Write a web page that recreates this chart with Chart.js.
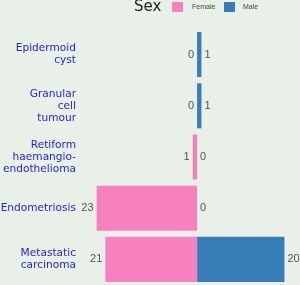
<!DOCTYPE html>
<html>
<head>
<meta charset="utf-8">
<script src="https://cdn.jsdelivr.net/npm/chart.js@4"></script>
<style>
  html, body { margin: 0; padding: 0; background: #e9f0e8; }
  #wrap { width: 300px; height: 285px; position: relative; }
</style>
</head>
<body>
<div id="wrap"><canvas id="grafico"></canvas></div>
<script>
const categorias = [
  ['Epidermoid', 'cyst'],
  ['Granular', 'cell', 'tumour'],
  ['Retiform', 'haemangio-', 'endothelioma'],
  'Endometriosis',
  ['Metastatic', 'carcinoma']
];
const feminino = [0, 0, 1, 23, 21];
const masculino = [1, 1, 0, 0, 20];

const corFem = '#f781bf';
const corMasc = '#377eb8';

// rótulos de valor nas pontas das barras
const rotulos = {
  id: 'rotulos',
  afterDatasetsDraw(chart) {
    const ctx = chart.ctx;
    const x = chart.scales.x;
    ctx.save();
    ctx.font = '11px "Liberation Sans", Arial, sans-serif';
    ctx.fillStyle = '#555';
    ctx.textBaseline = 'middle';
    chart.getDatasetMeta(0).data.forEach((bar, i) => {
      ctx.textAlign = 'right';
      ctx.fillText(String(feminino[i]), x.getPixelForValue(-feminino[i]) - 3, bar.y);
    });
    chart.getDatasetMeta(1).data.forEach((bar, i) => {
      ctx.textAlign = 'left';
      ctx.fillText(String(masculino[i]), x.getPixelForValue(masculino[i]) + 3, bar.y);
    });
    ctx.restore();
  }
};

// legenda no topo: "Sex" + caixas
const legenda = {
  id: 'legenda',
  afterDraw(chart) {
    const ctx = chart.ctx;
    ctx.save();
    ctx.textBaseline = 'middle';
    ctx.fillStyle = '#222';
    ctx.font = '15px "DejaVu Sans", sans-serif';
    ctx.textAlign = 'left';
    ctx.fillText('Sex', 134, 7);
    ctx.fillStyle = corFem;
    ctx.fillRect(172, 2, 11, 10);
    ctx.fillStyle = corMasc;
    ctx.fillRect(224, 2, 11, 10);
    ctx.fillStyle = '#444';
    ctx.font = '7px "Liberation Sans", sans-serif';
    ctx.fillText('Female', 192, 7);
    ctx.fillText('Male', 243, 7);
    ctx.restore();
  }
};

new Chart(document.getElementById('grafico'), {
  type: 'bar',
  data: {
    labels: categorias,
    datasets: [
      { label: 'Female', data: feminino.map(v => -v), backgroundColor: corFem },
      { label: 'Male', data: masculino, backgroundColor: corMasc }
    ]
  },
  options: {
    indexAxis: 'y',
    responsive: true,
    maintainAspectRatio: false,
    animation: false,
    datasets: { bar: { barPercentage: 0.88, categoryPercentage: 1 } },
    layout: { padding: { top: 29, bottom: 0, left: 0, right: 2 } },
    scales: {
      x: {
        stacked: true,
        display: false,
        min: -26.8,
        max: 23.1
      },
      y: {
        stacked: true,
        grid: { display: false, drawTicks: false },
        border: { display: false },
        afterFit(scale) {
          scale.width = 80;
          scale.paddingTop = 0;
          scale.paddingBottom = 0;
        },
        ticks: {
          color: '#2424e8',
          padding: 4,
          font: { family: '"DejaVu Sans", sans-serif', size: 10.6, lineHeight: 1.13 }
        }
      }
    },
    plugins: {
      legend: { display: false },
      tooltip: { enabled: false }
    }
  },
  plugins: [rotulos, legenda]
});
</script>
</body>
</html>
